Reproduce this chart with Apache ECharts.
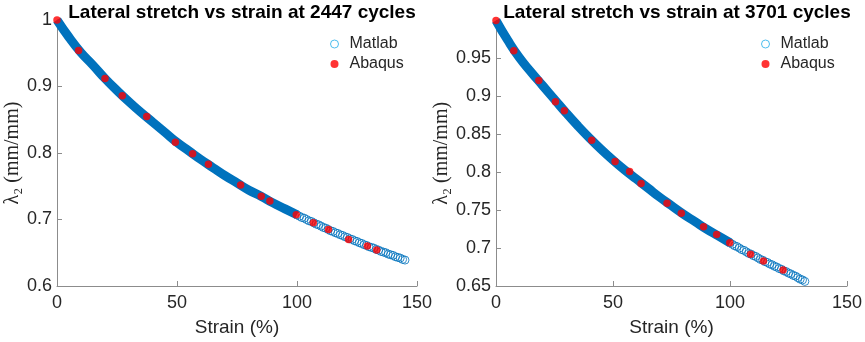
<!DOCTYPE html>
<html>
<head>
<meta charset="utf-8">
<script src="https://cdn.jsdelivr.net/npm/echarts@6/dist/echarts.min.js"></script>
<style>
html,body{margin:0;padding:0;background:#fff;}
#main{width:865px;height:342px;}
</style>
</head>
<body>
<div id="main"></div>
<script>
// left panel, 2447 cycles
var strainDenseA = [0,5,10,15,20,25,30,35,40,45,50,55,60,65,70,75,80,85,90,95,100];
var lambdaDenseA = [1.000,0.974,0.951,0.932,0.912,0.894,0.877,0.861,0.846,0.831,0.816,0.803,0.790,0.778,0.766,0.755,0.744,0.735,0.725,0.716,0.707];
var strainFineA = [100,101,102,103,104,105,106,107,108,109,110,111,112,113,114,115,116,117,118,119,120,121,122,123,124,125,126,127,128,129,130,131,132,133,134,135,136,137,138,139,140,141,142,143,144,145];
var lambdaFineA = [0.707,0.705,0.703,0.702,0.700,0.698,0.697,0.695,0.693,0.692,0.690,0.688,0.687,0.685,0.683,0.682,0.680,0.679,0.677,0.676,0.674,0.673,0.671,0.670,0.668,0.667,0.665,0.664,0.662,0.661,0.659,0.658,0.657,0.655,0.654,0.652,0.651,0.650,0.648,0.647,0.646,0.644,0.643,0.642,0.640,0.639];
var abaqusXA = [0,9.0,20.0,27.2,37.4,49.3,56.5,63.1,76.5,85.1,88.7,99.7,106.8,113.1,121.5,129.3,133.2];
var abaqusYA = [1.000,0.954,0.912,0.886,0.855,0.816,0.799,0.783,0.752,0.735,0.728,0.707,0.695,0.685,0.670,0.660,0.654];

// right panel, 3701 cycles
var strainDenseB = [0,5,10,15,20,25,30,35,40,45,50,55,60,65,70,75,80,85,90,95,100];
var lambdaDenseB = [1.000,0.974,0.951,0.932,0.914,0.896,0.878,0.861,0.845,0.830,0.816,0.803,0.791,0.779,0.767,0.756,0.745,0.735,0.725,0.716,0.707];
var strainFineB = [100,101,102,103,104,105,106,107,108,109,110,111,112,113,114,115,116,117,118,119,120,121,122,123,124,125,126,127,128,129,130,131,132];
var lambdaFineB = [0.707,0.705,0.703,0.702,0.700,0.698,0.697,0.695,0.693,0.692,0.690,0.689,0.687,0.685,0.684,0.682,0.681,0.679,0.678,0.676,0.675,0.673,0.672,0.670,0.669,0.667,0.666,0.664,0.663,0.661,0.659,0.658,0.656];
var abaqusXB = [0,7.6,18.3,25.4,29.2,40.9,50.9,57.1,62.0,73.1,79.2,88.7,94.3,99.9,108.8,114.3,122.7];
var abaqusYB = [1.000,0.960,0.921,0.893,0.881,0.842,0.814,0.801,0.785,0.759,0.746,0.728,0.718,0.707,0.692,0.683,0.671];

function pairs(xs, ys){
  var out = [];
  for (var i = 0; i < xs.length; i++) out.push([xs[i], ys[i]]);
  return out;
}

var FONT = 'Liberation Sans, Arial, Helvetica, sans-serif';
var axisGray = '#8c8c8c';
var txt = '#262626';
var blue = '#0072BD';

function xAxisOpt(idx){
  return {
    gridIndex: idx, type:'value', min:0, max:150, interval:50,
    name:'Strain (%)', nameLocation:'middle', nameGap:32,
    nameTextStyle:{fontFamily:FONT, fontSize:19, color:txt},
    axisLine:{lineStyle:{color:axisGray}},
    axisTick:{inside:true, length:5, lineStyle:{color:axisGray}},
    axisLabel:{fontFamily:FONT, fontSize:18, color:txt, margin:8},
    splitLine:{show:false}
  };
}
function yAxisOpt(idx, mn, step, hideTop, gap){
  return {
    gridIndex: idx, type:'value', min:mn, max:1, interval:step,
    name:'λ₂ (mm/mm)', nameLocation:'middle', nameGap:gap,
    nameTextStyle:{fontFamily:'Liberation Serif, DejaVu Serif, serif', fontSize:20, color:txt},
    axisLine:{show:true, lineStyle:{color:axisGray}},
    axisTick:{show:true, inside:true, length:5, lineStyle:{color:axisGray}},
    axisLabel:{fontFamily:FONT, fontSize:18, color:txt, margin:5,
      formatter:function(v){ if (hideTop && v > 0.999) return ''; return String(+v.toFixed(2)); }},
    splitLine:{show:false}
  };
}
function seriesFor(idx, sd, ld, sf, lf, ax, ay){
  return [
    {name:'Matlab', type:'line', xAxisIndex:idx, yAxisIndex:idx, data:pairs(sd, ld),
     smooth:true, showSymbol:false, symbol:'none', lineStyle:{color:blue, width:9}, itemStyle:{color:blue}, z:2, silent:true},
    {name:'Matlab', type:'scatter', xAxisIndex:idx, yAxisIndex:idx, data:pairs(sf, lf),
     symbol:'circle', symbolSize:8, itemStyle:{color:'rgba(0,0,0,0)', borderColor:blue, borderWidth:1}, z:3},
    {name:'Abaqus', type:'scatter', xAxisIndex:idx, yAxisIndex:idx, data:pairs(ax, ay),
     symbol:'circle', symbolSize:7.5, itemStyle:{color:'#ff0000'}, z:4}
  ];
}
function legendOpt(left){
  return {
    left:left, top:31, orient:'vertical', itemGap:4, itemWidth:20, itemHeight:8,
    textStyle:{fontFamily:FONT, fontSize:16, color:txt},
    data:[{name:'Matlab', icon:'circle', itemStyle:{color:'rgba(0,0,0,0)', borderColor:'#4DBEEE', borderWidth:1}},
          {name:'Abaqus', icon:'circle', itemStyle:{color:'#ff0000'}}]
  };
}

var chart = echarts.init(document.getElementById('main'), null, {renderer:'canvas'});
chart.setOption({
  animation:false,
  backgroundColor:'#fff',
  title:[
    {text:'Lateral stretch vs strain at 2447 cycles', left:237, top:-2, textAlign:'center',
     textStyle:{fontFamily:FONT, fontSize:19, fontWeight:'bold', color:'#000'}},
    {text:'Lateral stretch vs strain at 3701 cycles', left:672, top:-2, textAlign:'center',
     textStyle:{fontFamily:FONT, fontSize:19, fontWeight:'bold', color:'#000'}}
  ],
  legend:[legendOpt(325), legendOpt(756)],
  grid:[
    {left:57, top:20, width:360, height:267},
    {left:496, top:20.5, width:353, height:266.5}
  ],
  xAxis:[xAxisOpt(0), xAxisOpt(1)],
  yAxis:[yAxisOpt(0, 0.6, 0.1, false, 34), yAxisOpt(1, 0.65, 0.05, true, 40)],
  series: seriesFor(0, strainDenseA, lambdaDenseA, strainFineA, lambdaFineA, abaqusXA, abaqusYA)
    .concat(seriesFor(1, strainDenseB, lambdaDenseB, strainFineB, lambdaFineB, abaqusXB, abaqusYB))
});
</script>
</body>
</html>
